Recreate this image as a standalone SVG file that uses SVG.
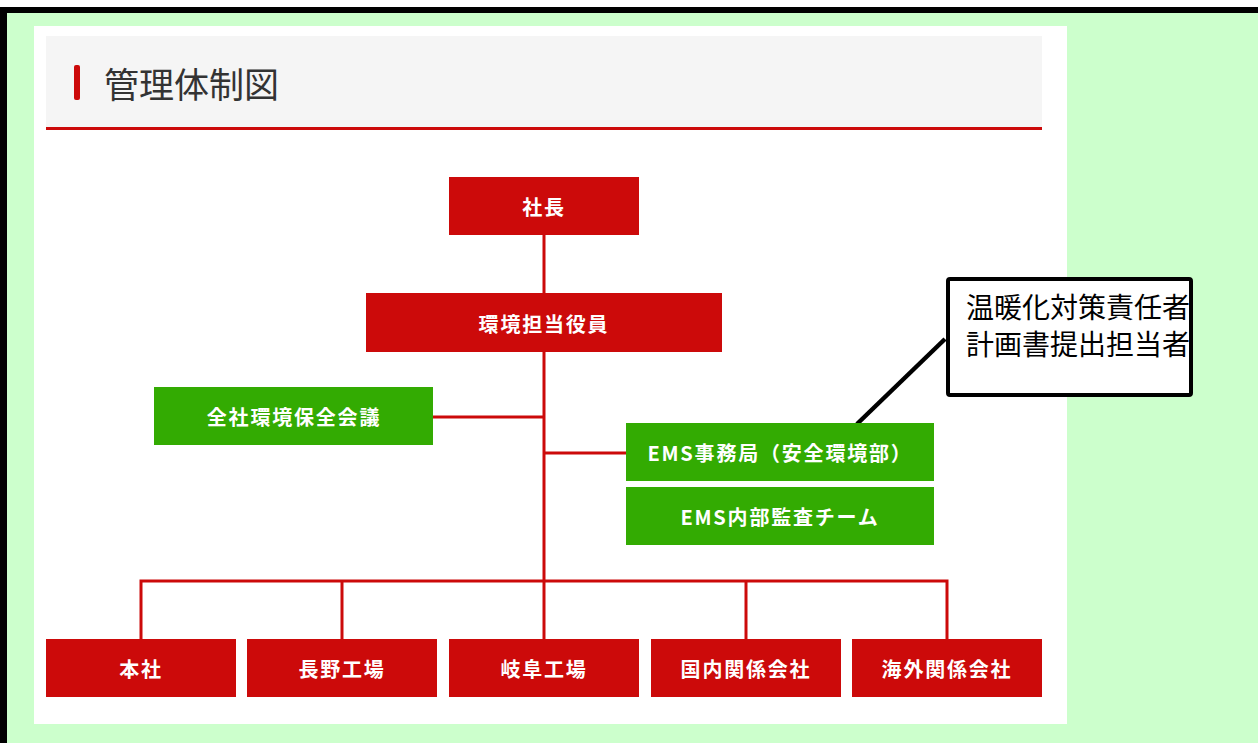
<svg xmlns="http://www.w3.org/2000/svg" width="1258" height="743" viewBox="0 0 1258 743">
<style>
.red{fill:#cc0a0a}
.grn{fill:#33ab02}
.lbl{font-family:"Noto Sans CJK JP","Noto Sans",sans-serif;font-weight:bold;font-size:20px;fill:#ffffff;text-anchor:middle;dominant-baseline:central;letter-spacing:1.8px}
.conn{stroke:#cc0a0a;stroke-width:3;fill:none}
.note{font-family:"Noto Sans CJK JP","Noto Sans",sans-serif;font-size:28px;fill:#000000;dominant-baseline:central}
</style>
<rect x="0" y="0" width="1258" height="743" fill="#ffffff"/>
<rect x="0" y="7" width="1258" height="736" fill="#ccffcc"/>
<rect x="0" y="7" width="1258" height="6" fill="#000000"/>
<rect x="0" y="7" width="7" height="736" fill="#000000"/>
<rect x="34" y="26" width="1033" height="698" fill="#ffffff"/>
<g id="header">
<rect x="46" y="36" width="996" height="91" fill="#f5f5f5"/>
<rect x="46" y="127" width="996" height="3" fill="#cc0a0a"/>
<rect x="74" y="65" width="6" height="35" rx="2" fill="#cc0a0a"/>
<text x="104" y="82" font-family="'Noto Sans CJK JP','Noto Sans',sans-serif" font-size="35" fill="#333333" dominant-baseline="central">管理体制図</text>
</g>
<g id="connectors">
<line class="conn" x1="544" y1="235" x2="544" y2="581"/>
<line class="conn" x1="433" y1="417" x2="544" y2="417"/>
<line class="conn" x1="544" y1="453" x2="626" y2="453"/>
<polyline class="conn" points="141,639 141,581 947,581 947,639"/>
<line class="conn" x1="342" y1="581" x2="342" y2="639"/>
<line class="conn" x1="746" y1="581" x2="746" y2="639"/>
<line class="conn" x1="544" y1="581" x2="544" y2="639"/>
<line x1="945" y1="339" x2="857" y2="424" stroke="#000000" stroke-width="4.5"/>
</g>
<g id="n-president"><rect class="red" x="449" y="177" width="190" height="58"/><text class="lbl" x="544" y="206">社長</text></g>
<g id="n-officer"><rect class="red" x="366" y="293" width="356" height="59"/><text class="lbl" x="544" y="323">環境担当役員</text></g>
<g id="n-council"><rect class="grn" x="154" y="387" width="279" height="58"/><text class="lbl" x="294" y="416">全社環境保全会議</text></g>
<g id="n-ems"><rect class="grn" x="626" y="423" width="308" height="58"/><text class="lbl" x="780" y="452">EMS事務局（安全環境部）</text></g>
<g id="n-audit"><rect class="grn" x="626" y="487" width="308" height="58"/><text class="lbl" x="780" y="516">EMS内部監査チーム</text></g>
<g id="n-honsha"><rect class="red" x="46" y="639" width="190" height="58"/><text class="lbl" x="141" y="668">本社</text></g>
<g id="n-nagano"><rect class="red" x="247" y="639" width="190" height="58"/><text class="lbl" x="342" y="668">長野工場</text></g>
<g id="n-gifu"><rect class="red" x="449" y="639" width="190" height="58"/><text class="lbl" x="544" y="668">岐阜工場</text></g>
<g id="n-domestic"><rect class="red" x="651" y="639" width="190" height="58"/><text class="lbl" x="746" y="668">国内関係会社</text></g>
<g id="n-overseas"><rect class="red" x="852" y="639" width="190" height="58"/><text class="lbl" x="947" y="668">海外関係会社</text></g>
<g id="callout">
<rect x="948" y="279" width="243" height="116" rx="2" fill="#ffffff" stroke="#000000" stroke-width="4"/>
<text class="note" x="966" y="306">温暖化対策責任者</text>
<text class="note" x="966" y="343">計画書提出担当者</text>
</g>
</svg>
